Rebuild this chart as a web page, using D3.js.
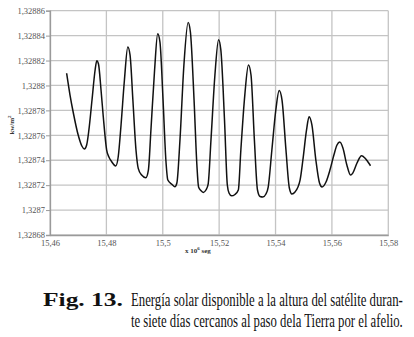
<!DOCTYPE html>
<html>
<head>
<meta charset="utf-8">
<script src="https://cdn.jsdelivr.net/npm/d3@7"></script>
<style>
  body { margin: 0; background: #fff; }
  svg { display: block; }
  .tick-label { font-family: "Liberation Serif", "Times New Roman", serif; font-size: 8.5px; fill: #555; }
  .axis-title { font-family: "Liberation Serif", "Times New Roman", serif; font-size: 7px; font-weight: bold; fill: #333; }
  .caption { font-family: "Liberation Serif", "Times New Roman", serif; font-size: 18px; fill: #111; }
</style>
</head>
<body>
<div class="chart"></div>
<script>
// time in units of 10^6 s
const time = [
  15.4659, 15.4671, 15.4683, 15.4700, 15.4713, 15.4722, 15.4730, 15.4738, 15.4749, 15.4760,
  15.4766, 15.4772, 15.4781, 15.4789, 15.4801, 15.4809, 15.4819, 15.4833, 15.4842, 15.4852,
  15.4864, 15.4876, 15.4884, 15.4894, 15.4905, 15.4913, 15.4925, 15.4940, 15.4949, 15.4958,
  15.4971, 15.4982, 15.4990, 15.5001, 15.5011, 15.5018, 15.5033, 15.5043, 15.5050, 15.5061,
  15.5075, 15.5090, 15.5098, 15.5111, 15.5121, 15.5127, 15.5135, 15.5144, 15.5153, 15.5161,
  15.5171, 15.5185, 15.5198, 15.5206, 15.5219, 15.5229, 15.5235, 15.5244, 15.5256, 15.5268,
  15.5277, 15.5291, 15.5304, 15.5313, 15.5325, 15.5336, 15.5345, 15.5355, 15.5366, 15.5374,
  15.5387, 15.5401, 15.5413, 15.5423, 15.5437, 15.5449, 15.5458, 15.5469, 15.5487, 15.5497,
  15.5510, 15.5519, 15.5529, 15.5543, 15.5556, 15.5565, 15.5579, 15.5593, 15.5607, 15.5618,
  15.5628, 15.5639, 15.5653, 15.5666, 15.5674, 15.5689, 15.5705, 15.5717, 15.5728, 15.5737
];

// available solar energy, kW/m^2
const energy = [
  1.3288098, 1.3287923, 1.3287777, 1.3287602, 1.3287514, 1.3287490, 1.3287522, 1.3287643, 1.3287883, 1.3288124,
  1.3288199, 1.3288172, 1.3287964, 1.3287749, 1.3287482, 1.3287426, 1.3287388, 1.3287354, 1.3287428, 1.3287683,
  1.3288044, 1.3288309, 1.3288244, 1.3287883, 1.3287482, 1.3287335, 1.3287281, 1.3287260, 1.3287321, 1.3287643,
  1.3288124, 1.3288415, 1.3288349, 1.3287883, 1.3287402, 1.3287241, 1.3287205, 1.3287187, 1.3287217, 1.3287562,
  1.3288164, 1.3288505, 1.3288429, 1.3287883, 1.3287362, 1.3287185, 1.3287157, 1.3287142, 1.3287161, 1.3287209,
  1.3287562, 1.3288084, 1.3288367, 1.3288285, 1.3287723, 1.3287201, 1.3287137, 1.3287114, 1.3287125, 1.3287161,
  1.3287482, 1.3287923, 1.3288164, 1.3288084, 1.3287562, 1.3287161, 1.3287109, 1.3287105, 1.3287129, 1.3287185,
  1.3287482, 1.3287803, 1.3287960, 1.3287883, 1.3287482, 1.3287177, 1.3287129, 1.3287145, 1.3287241, 1.3287402,
  1.3287643, 1.3287749, 1.3287683, 1.3287402, 1.3287217, 1.3287185, 1.3287225, 1.3287321, 1.3287442, 1.3287522,
  1.3287546, 1.3287498, 1.3287362, 1.3287281, 1.3287297, 1.3287378, 1.3287436, 1.3287418, 1.3287386, 1.3287356
];

const xTicks = [15.46, 15.48, 15.5, 15.52, 15.54, 15.56, 15.58];
const yTicks = [1.32868, 1.3287, 1.32872, 1.32874, 1.32876, 1.32878, 1.3288, 1.32882, 1.32884, 1.32886];

const captionLabel = "Fig. 13.";
const captionLines = [
  "Energía solar disponible a la altura del satélite duran-",
  "te siete días cercanos al paso dela Tierra por el afelio."
];

const width = 414, height = 337;
const margin = { left: 50, top: 10.7, right: 25.7, bottom: 102 };
const plotW = width - margin.left - margin.right;
const plotH = height - margin.top - margin.bottom;

// decimal comma, drop trailing zeros
const fmt = v => String(+v.toFixed(5)).replace('.', ',');

const svg = d3.select('.chart')
  .append('svg')
  .attr('width', width)
  .attr('height', height);

const g = svg.append('g')
  .attr('transform', `translate(${margin.left},${margin.top})`);

const x = d3.scaleLinear().domain([15.46, 15.58]).range([0, plotW]);
const y = d3.scaleLinear().domain([1.32868, 1.32886]).range([plotH, 0]);

// gridlines
g.selectAll('.hgrid')
  .data(yTicks)
  .enter().append('line')
  .attr('x1', 0).attr('x2', plotW)
  .attr('y1', d => y(d)).attr('y2', d => y(d))
  .attr('stroke', '#c4c4c4')
  .attr('stroke-width', 1.3);

g.selectAll('.vgrid')
  .data(xTicks)
  .enter().append('line')
  .attr('x1', d => x(d)).attr('x2', d => x(d))
  .attr('y1', 0).attr('y2', plotH)
  .attr('stroke', '#c4c4c4')
  .attr('stroke-width', 1.3);

// axes
const yAxis = g.append('g')
  .call(d3.axisLeft(y).tickValues(yTicks).tickFormat(fmt).tickSize(4).tickPadding(1));
const xAxis = g.append('g')
  .attr('transform', `translate(0,${plotH})`)
  .call(d3.axisBottom(x).tickValues(xTicks).tickFormat(fmt).tickSize(0).tickPadding(5));

[xAxis, yAxis].forEach(a => {
  a.select('.domain').attr('stroke', '#9a9a9a').attr('stroke-width', 1.3);
  a.selectAll('.tick line').attr('stroke', '#9a9a9a');
  a.selectAll('.tick text').attr('class', 'tick-label').attr('fill', null);
});

// the curve
const line = d3.line()
  .x(i => x(time[i]))
  .y(i => y(energy[i]))
  .curve(d3.curveMonotoneX);

g.append('path')
  .datum(d3.range(time.length))
  .attr('fill', 'none')
  .attr('stroke', '#111')
  .attr('stroke-width', 1.5)
  .attr('stroke-linejoin', 'round')
  .attr('d', line);

// axis titles
const xt = svg.append('text')
  .attr('class', 'axis-title')
  .attr('x', 185).attr('y', 252.5);
xt.append('tspan').text('x 10');
xt.append('tspan').attr('dy', -3).attr('font-size', '5px').text('6');
xt.append('tspan').attr('dy', 3).text(' seg');

const yt = svg.append('text')
  .attr('class', 'axis-title')
  .attr('transform', 'translate(14,125) rotate(-90)')
  .attr('text-anchor', 'middle');
yt.append('tspan').text('kw/m');
yt.append('tspan').attr('dy', -3).attr('font-size', '5px').text('2');

// caption: squeeze each line horizontally to the printed width
const fitText = (sel, left, baseline, w) => {
  const natural = sel.node().getComputedTextLength();
  sel.attr('transform', `translate(${left},${baseline}) scale(${w / natural},1)`);
};

const label = svg.append('text')
  .attr('class', 'caption')
  .attr('font-weight', 'bold')
  .attr('font-size', '19px')
  .text(captionLabel);
fitText(label, 43, 306, 80);

svg.selectAll('.cap-line')
  .data(captionLines)
  .enter().append('text')
  .attr('class', 'caption')
  .text(d => d)
  .each(function (d, i) {
    fitText(d3.select(this), 131, 306 + i * 21, 272);
  });
</script>
</body>
</html>
